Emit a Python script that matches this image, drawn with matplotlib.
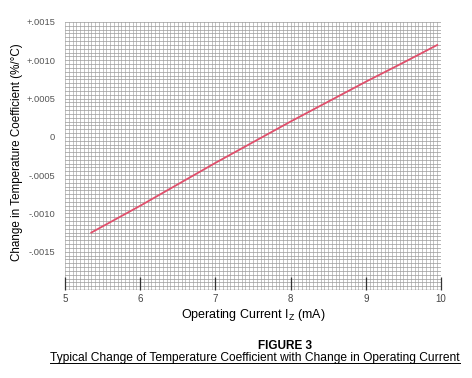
import matplotlib
matplotlib.use("Agg")
import matplotlib.pyplot as plt
import numpy as np
from matplotlib.lines import Line2D

plt.rcParams['font.family'] = ['Liberation Sans', 'DejaVu Sans']

current_ma = [5.35, 6.0, 6.5, 7.0, 7.5, 8.0, 8.5, 9.0, 9.5, 9.95]
tc_change = [-0.00125, -0.00090, -0.00062, -0.00034, -0.00007, 0.00020, 0.00046, 0.00072, 0.00097, 0.00120]

x_ticks = [5, 6, 7, 8, 9, 10]
y_ticks = [0.0015, 0.0010, 0.0005, 0, -0.0005, -0.0010, -0.0015]
y_tick_labels = ["+.0015", "+.0010", "+.0005", "0", "-.0005", "-.0010", "-.0015"]

W, H = 472, 378
fig = plt.figure(figsize=(W / 100, H / 100), dpi=100)
ax = fig.add_axes([65 / W, 1 - 290 / H, (441 - 65) / W, (290 - 22) / H])

ax.set_xlim(5, 10)
ax.set_ylim(-0.002, 0.0015)

# graph-paper grid
for xv in np.arange(5, 10.0001, 0.05):
    ax.axvline(xv, color='#ababab', lw=0.5, zorder=1)
for yv in np.arange(-0.002, 0.00150001, 0.00005):
    ax.axhline(yv, color='#999999', lw=0.5, zorder=1)

for s in ax.spines.values():
    s.set_visible(False)

ax.set_xticks(x_ticks)
ax.set_xticklabels([str(v) for v in x_ticks], fontsize=7, color='#444444')
ax.tick_params(axis='x', direction='in', length=9.5, width=0.9, color='#333333', pad=3)
ax.set_yticks(y_ticks)
ax.set_yticklabels(y_tick_labels, fontsize=6.7, color='#555555')
ax.tick_params(axis='y', length=0, pad=7)
ax.axhline(-0.002, color='#333333', lw=0.9, zorder=2)

ax.plot(current_ma, tc_change, color='#e0506c', lw=1.3, zorder=3)

ax.set_xlabel("Operating Current I$_\\mathregular{Z}$ (mA)", fontsize=9, labelpad=2)
fig.text(17 / W, 1 - 152 / H, "Change in Temperature Coefficient (%/°C)", rotation=90,
         ha='center', va='center', fontsize=8.4)

fig.text(285 / W, 1 - 346 / H, "FIGURE 3", ha='center', va='center', fontsize=8.5, fontweight='bold')
cap = fig.text(255 / W, 1 - 358 / H, "Typical Change of Temperature Coefficient with Change in Operating Current",
               ha='center', va='center', fontsize=8.65)

fig.canvas.draw()
bb = cap.get_window_extent(renderer=fig.canvas.get_renderer())
yline = (bb.y0 + 1.0) / H
fig.add_artist(Line2D([bb.x0 / W, bb.x1 / W], [yline, yline], transform=fig.transFigure,
                      color='black', lw=0.7))

fig.savefig("out.png", dpi=100)
